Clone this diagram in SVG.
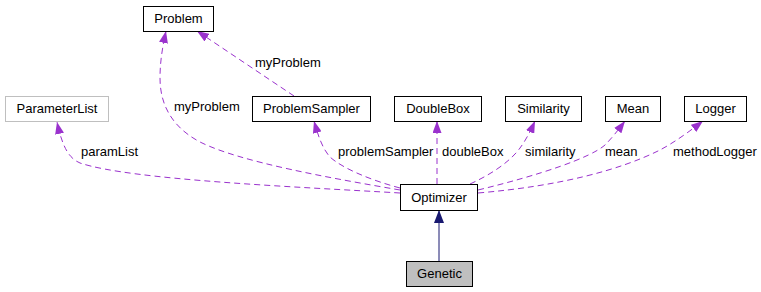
<svg xmlns="http://www.w3.org/2000/svg" width="761" height="292" viewBox="0 0 761 292">
  <style>
    .box { fill: #ffffff; stroke: #000000; stroke-width: 1; }
    .ext { fill: #ffffff; stroke: #bfbfbf; stroke-width: 1; }
    .cur { fill: #bfbfbf; stroke: #000000; stroke-width: 1; }
    text { font-family: "Liberation Sans", Arial, Helvetica, sans-serif; font-size: 13px; fill: #000000; }
    .name { text-anchor: middle; }
    .use { fill: none; stroke: #9a32cd; stroke-width: 1; stroke-dasharray: 6,4; marker-end: url(#usage); }
    .inherit { fill: none; stroke: #191970; stroke-width: 1; marker-end: url(#base); }
  </style>
  <defs>
    <marker id="usage" markerUnits="userSpaceOnUse" markerWidth="12" markerHeight="9" refX="12" refY="4.5" orient="auto">
      <path d="M0,0 L12,4.5 L0,9 z" fill="#9a32cd"/>
    </marker>
    <marker id="base" markerUnits="userSpaceOnUse" markerWidth="13" markerHeight="10" refX="13" refY="5" orient="auto">
      <path d="M0,0 L13,5 L0,10 z" fill="#191970"/>
    </marker>
  </defs>

  <rect width="761" height="292" fill="#ffffff"/>

  <!-- connectors -->
  <g id="edges">
    <path class="inherit" d="M439,261 L439,210"/>
    <path class="use" d="M400,193 C300,187 130,180 80,163 C68,158 62,145 57,122"/>
    <path class="use" d="M400,190 C330,178 240,162 200,142 C168,125 160,100 160,78 C160,60 163,45 166,31"/>
    <path class="use" d="M294,96 L197,31"/>
    <path class="use" d="M400,188 C370,180 342,168 330,157 C322,148 318,135 314,121"/>
    <path class="use" d="M437,184 L437,121"/>
    <path class="use" d="M470,184 C490,175 510,162 520,148 C526,140 531,130 535,121"/>
    <path class="use" d="M478,190 C540,175 590,158 605,145 C612,138 619,129 625,121"/>
    <path class="use" d="M478,193 C560,186 620,170 660,150 C675,142 690,131 703,121"/>
    <text x="255" y="67">myProblem</text>
    <text x="174" y="111">myProblem</text>
    <text x="81" y="156">paramList</text>
    <text x="338" y="156">problemSampler</text>
    <text x="442" y="156">doubleBox</text>
    <text x="525" y="156">similarity</text>
    <text x="605" y="156">mean</text>
    <text x="673" y="156">methodLogger</text>
  </g>

  <!-- classes -->
  <g id="Problem">
    <rect class="box" x="143.5" y="6.5" width="70" height="25"/>
    <text class="name" x="178.5" y="23">Problem</text>
  </g>
  <g id="ParameterList">
    <rect class="ext" x="5.5" y="96.5" width="103" height="25"/>
    <text class="name" x="57" y="113">ParameterList</text>
  </g>
  <g id="ProblemSampler">
    <rect class="box" x="252.5" y="96.5" width="118" height="25"/>
    <text class="name" x="311.5" y="113">ProblemSampler</text>
  </g>
  <g id="DoubleBox">
    <rect class="box" x="394.5" y="96.5" width="87" height="25"/>
    <text class="name" x="438" y="113">DoubleBox</text>
  </g>
  <g id="Similarity">
    <rect class="box" x="505.5" y="96.5" width="76" height="25"/>
    <text class="name" x="543.5" y="113">Similarity</text>
  </g>
  <g id="Mean">
    <rect class="box" x="605.5" y="96.5" width="55" height="25"/>
    <text class="name" x="633" y="113">Mean</text>
  </g>
  <g id="Logger">
    <rect class="box" x="684.5" y="96.5" width="62" height="25"/>
    <text class="name" x="715.5" y="113">Logger</text>
  </g>
  <g id="Optimizer">
    <rect class="box" x="400.5" y="184.5" width="77" height="26"/>
    <text class="name" x="439" y="202">Optimizer</text>
  </g>
  <g id="Genetic">
    <rect class="cur" x="406.5" y="261.5" width="66" height="25"/>
    <text class="name" x="439.5" y="278">Genetic</text>
  </g>
</svg>
